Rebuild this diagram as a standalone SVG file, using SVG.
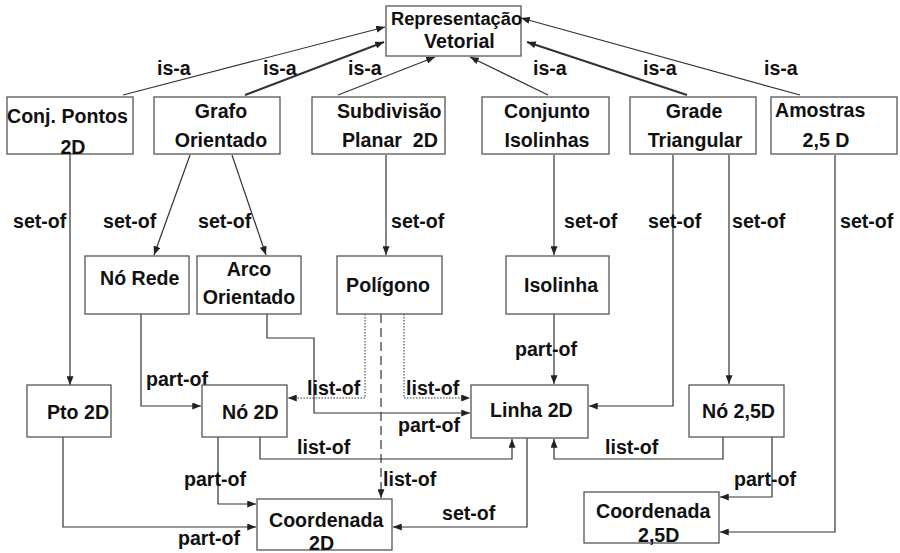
<svg xmlns="http://www.w3.org/2000/svg" width="900" height="553" viewBox="0 0 900 553">
<defs>
<marker id="ah" viewBox="0 0 10 8" markerWidth="9" markerHeight="7" refX="10" refY="4" orient="auto" markerUnits="userSpaceOnUse"><path d="M0,0 L10,4 L0,8 z" fill="#222"/></marker>
</defs>
<style>
.box{fill:#fff;stroke:#555;stroke-width:1.3}
text{font-family:"Liberation Sans",Arial,sans-serif;font-weight:bold;font-size:19.6px;fill:#111}
.c{text-anchor:middle}
.pre{white-space:pre}
.ln{fill:none;stroke:#333;stroke-width:1.2;marker-end:url(#ah)}
.thick{stroke-width:2}
.dot{stroke-dasharray:1.5 1.5;stroke-width:1}
.dash{stroke-dasharray:9 5}
</style>
<rect width="900" height="553" fill="#fff"/>
<g id="connectors">
<path class="ln" d="M123,95 L385,27"/>
<path class="ln thick" d="M245,95 L384,42"/>
<path class="ln" d="M338,95 L435,57"/>
<path class="ln" d="M548,95 L470,57"/>
<path class="ln thick" d="M687,95 L527,42"/>
<path class="ln" d="M800,95 L521,18"/>
<path class="ln" d="M70,154 L70,385"/>
<path class="ln" d="M190,155 L154,255"/>
<path class="ln" d="M232,155 L266,255"/>
<path class="ln" d="M386,155 L386,255"/>
<path class="ln" d="M554,155 L554,255"/>
<path class="ln" d="M673,155 L673,406 L589,406"/>
<path class="ln" d="M729,155 L729,384"/>
<path class="ln" d="M835,155 L835,532 L720,532"/>
<path class="ln" d="M141,314 L141,406 L201,406"/>
<path class="ln" d="M267,314 L267,338 L314,338 L314,413 L470,413"/>
<path class="ln dot" d="M365,314 L365,398 L288,398"/>
<path class="ln dot" d="M404,314 L404,398 L470,398"/>
<path class="ln dash" d="M381,314 L381,498"/>
<path class="ln" d="M554,314 L554,384"/>
<path class="ln" d="M260,437 L260,459 L512,459 L512,439"/>
<path class="ln" d="M723,437 L723,459 L554,459 L554,439"/>
<path class="ln" d="M218,437 L218,504 L256,504"/>
<path class="ln" d="M63,437 L63,527 L256,527"/>
<path class="ln" d="M527,438 L527,527 L393,527"/>
<path class="ln" d="M772,437 L772,497 L720,497"/>
<g id="labels">
<text x="157" y="75">is-a</text>
<text x="263" y="75">is-a</text>
<text x="348" y="75">is-a</text>
<text x="533" y="75">is-a</text>
<text x="643" y="75">is-a</text>
<text x="764" y="75">is-a</text>
<text x="13" y="228">set-of</text>
<text x="103" y="228">set-of</text>
<text x="198" y="228">set-of</text>
<text x="391" y="228">set-of</text>
<text x="564" y="228">set-of</text>
<text x="648" y="228">set-of</text>
<text x="732" y="228">set-of</text>
<text x="840" y="228">set-of</text>
<text x="146" y="386">part-of</text>
<text x="515" y="356">part-of</text>
<text x="307" y="395">list-of</text>
<text x="406" y="395">list-of</text>
<text x="398" y="432">part-of</text>
<text x="297" y="454">list-of</text>
<text x="605" y="454">list-of</text>
<text x="383" y="486">list-of</text>
<text x="184" y="486">part-of</text>
<text x="734" y="486">part-of</text>
<text x="442" y="520">set-of</text>
<text x="178" y="545">part-of</text>
</g>
</g>
<g id="n-rep"><rect class="box" x="386" y="6" width="135" height="50"/><text x="391" y="25" style="font-size:18.3px">Representação</text><text x="424" y="48">Vetorial</text></g>
<g id="n-conj"><rect class="box" x="7" y="97" width="126" height="57"/><text x="7" y="123">Conj. Pontos</text><text class="c" x="73" y="154">2D</text></g>
<g id="n-grafo"><rect class="box" x="154" y="97" width="126" height="57"/><text class="c" x="221" y="118">Grafo</text><text class="c" x="221" y="147">Orientado</text></g>
<g id="n-subdiv"><rect class="box" x="312" y="97" width="133" height="57"/><text x="337" y="118">Subdivisão</text><text class="pre" x="342" y="147">Planar  2D</text></g>
<g id="n-conjiso"><rect class="box" x="482" y="97" width="127" height="57"/><text class="c" x="547" y="118">Conjunto</text><text class="c" x="547" y="147">Isolinhas</text></g>
<g id="n-grade"><rect class="box" x="630" y="97" width="126" height="57"/><text class="c" x="694" y="118">Grade</text><text class="c" x="695" y="147">Triangular</text></g>
<g id="n-amostras"><rect class="box" x="771" y="97" width="126" height="57"/><text x="775" y="117">Amostras</text><text class="c" x="826" y="147">2,5 D</text></g>
<g id="n-norede"><rect class="box" x="85" y="256" width="104" height="58"/><text x="100" y="285">Nó Rede</text></g>
<g id="n-arco"><rect class="box" x="197" y="256" width="104" height="58"/><text class="c" x="249" y="276">Arco</text><text class="c" x="249" y="304">Orientado</text></g>
<g id="n-poligono"><rect class="box" x="337" y="256" width="105" height="58"/><text class="c" x="388" y="292">Polígono</text></g>
<g id="n-isolinha"><rect class="box" x="506" y="256" width="103" height="58"/><text x="524" y="292">Isolinha</text></g>
<g id="n-pto2d"><rect class="box" x="27" y="385" width="84" height="52"/><text x="47" y="419">Pto 2D</text></g>
<g id="n-no2d"><rect class="box" x="202" y="385" width="85" height="52"/><text x="222" y="419">Nó 2D</text></g>
<g id="n-linha2d"><rect class="box" x="471" y="385" width="117" height="53"/><text x="490" y="417">Linha 2D</text></g>
<g id="n-no25d"><rect class="box" x="689" y="385" width="95" height="52"/><text x="702" y="418">Nó 2,5D</text></g>
<g id="n-coord2d"><rect class="box" x="257" y="499" width="135" height="51"/><text x="269" y="527">Coordenada</text><text x="309" y="550">2D</text></g>
<g id="n-coord25d"><rect class="box" x="584" y="492" width="135" height="51"/><text x="596" y="518">Coordenada</text><text x="638" y="542">2,5D</text></g>
</svg>
